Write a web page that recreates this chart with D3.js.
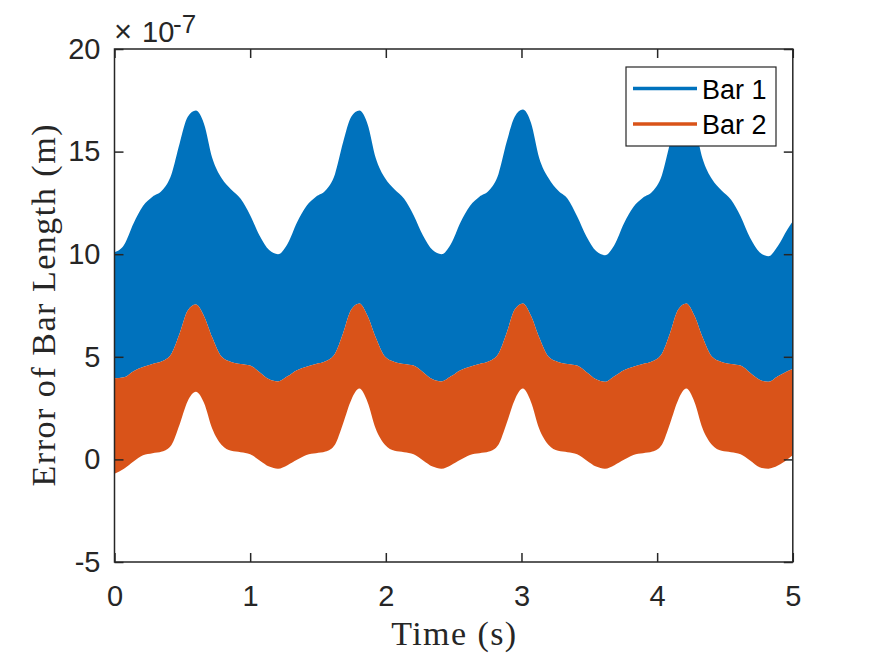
<!DOCTYPE html>
<html>
<head>
<meta charset="utf-8">
<script src="https://d3js.org/d3.v7.min.js"></script>
<style>
    body { margin: 0; background: #fff; }
    .tick text { font-family: "Liberation Sans", Arial, Helvetica, sans-serif; font-size: 29px; fill: #262626; }
    .tick line { stroke: #262626; stroke-width: 1.5; }
    .axis path.domain { display: none; }
</style>
</head>
<body>
<script>

//SVG dimension variables
var w = 875, h = 656;

var time = [
    0, 0.07, 0.14, 0.21, 0.28, 0.35, 0.42, 0.48, 0.54, 0.60, 0.66, 0.72, 0.79, 0.86, 0.93, 1.00, 1.07, 1.14,
    1.205, 1.275, 1.345, 1.415, 1.485, 1.555, 1.625, 1.685, 1.745, 1.805, 1.865, 1.925, 1.995, 2.065, 2.135, 2.205, 2.275, 2.345,
    2.41, 2.48, 2.55, 2.62, 2.69, 2.76, 2.83, 2.89, 2.95, 3.01, 3.07, 3.13, 3.20, 3.27, 3.34, 3.41, 3.48, 3.55,
    3.615, 3.685, 3.755, 3.825, 3.895, 3.965, 4.035, 4.095, 4.155, 4.215, 4.275, 4.335, 4.405, 4.475, 4.545, 4.615, 4.685, 4.755,
    4.82, 4.89, 4.96, 5.0
];

//Bar 1 upper envelope (x1e-7 m)
var bar1Max = [
    10.1, 10.45, 11.5, 12.35, 12.8, 13.1, 13.9, 15.4, 16.7, 17.0, 16.35, 14.7, 13.7, 13.15, 12.7, 11.9, 10.9, 10.2,
    10.0, 10.5, 11.55, 12.35, 12.8, 13.1, 13.9, 15.45, 16.7, 17.0, 16.35, 14.7, 13.7, 13.15, 12.7, 11.9, 10.9, 10.2,
    10.0, 10.5, 11.55, 12.35, 12.8, 13.1, 13.9, 15.45, 16.7, 17.05, 16.4, 14.7, 13.7, 13.1, 12.7, 11.85, 10.85, 10.15,
    9.95, 10.45, 11.5, 12.3, 12.75, 13.05, 13.85, 15.4, 16.65, 17.0, 16.3, 14.65, 13.65, 13.1, 12.65, 11.85, 10.8, 10.1,
    9.9, 10.4, 11.2, 11.6
];

//Bar 2 upper envelope (x1e-7 m)
var bar2Max = [
    3.95, 4.0, 4.3, 4.5, 4.65, 4.78, 5.15, 6.13, 7.26, 7.55, 6.98, 5.95, 5.0, 4.75, 4.65, 4.57, 4.25, 3.9,
    3.8, 4.05, 4.35, 4.52, 4.65, 4.78, 5.15, 6.15, 7.3, 7.6, 7.0, 5.95, 5.0, 4.75, 4.65, 4.57, 4.25, 3.9,
    3.8, 4.05, 4.35, 4.52, 4.65, 4.78, 5.15, 6.15, 7.3, 7.6, 7.0, 5.95, 5.0, 4.75, 4.65, 4.57, 4.25, 3.9,
    3.78, 4.05, 4.35, 4.52, 4.65, 4.78, 5.15, 6.15, 7.3, 7.6, 7.0, 5.95, 5.0, 4.75, 4.65, 4.57, 4.22, 3.88,
    3.78, 4.05, 4.3, 4.4
];

//Bar 2 lower envelope (x1e-7 m)
var bar2Min = [
    -0.7, -0.45, -0.1, 0.2, 0.3, 0.38, 0.7, 1.7, 2.85, 3.3, 2.75, 1.5, 0.7, 0.42, 0.35, 0.25, -0.05, -0.35,
    -0.45, -0.28, -0.02, 0.22, 0.3, 0.38, 0.72, 1.75, 2.9, 3.45, 2.8, 1.5, 0.7, 0.42, 0.35, 0.25, -0.05, -0.35,
    -0.45, -0.28, -0.02, 0.22, 0.3, 0.38, 0.72, 1.75, 2.9, 3.45, 2.8, 1.5, 0.7, 0.42, 0.35, 0.25, -0.05, -0.35,
    -0.45, -0.28, -0.02, 0.22, 0.3, 0.38, 0.72, 1.75, 2.9, 3.45, 2.8, 1.5, 0.7, 0.42, 0.35, 0.25, -0.05, -0.38,
    -0.45, -0.3, 0.0, 0.2
];

//axis ticks and legend entries
var xTicks = [0, 1, 2, 3, 4, 5];
var yTicks = [-5, 0, 5, 10, 15, 20];
var seriesNames = ["Bar 1", "Bar 2"];
var seriesColors = ["#0072BD", "#D95319"];

window.onload = function(){

    var svg = d3.select("body")
        .append("svg")
        .attr("width", w)
        .attr("height", h);

    //plot box edges in pixels
    var left = 114.5, right = 792.8, top = 49, bottom = 562;

    var x = d3.scaleLinear()
        .domain([0, 5])
        .range([left, right]);

    var y = d3.scaleLinear()
        .domain([-5, 20])
        .range([bottom, top]);

    //plain integer labels with an ascii hyphen for negatives
    var plain = function(d){ return String(d); };

    //pair each sample time with the three envelopes
    var rows = time.map(function(t, i){
        return { t: t, b1: bar1Max[i], b2hi: bar2Max[i], b2lo: bar2Min[i] };
    });

    svg.append("clipPath")
        .attr("id", "plotClip")
        .append("rect")
        .attr("x", left)
        .attr("y", top)
        .attr("width", right - left)
        .attr("height", bottom - top);

    var plot = svg.append("g").attr("clip-path", "url(#plotClip)");

    //Bar 1 band - visible part lies above the Bar 2 band
    var area1 = d3.area()
        .x(function(d){ return x(d.t); })
        .y0(function(d){ return y(d.b2hi); })
        .y1(function(d){ return y(d.b1); })
        .curve(d3.curveMonotoneX);

    //Bar 2 band
    var area2 = d3.area()
        .x(function(d){ return x(d.t); })
        .y0(function(d){ return y(d.b2lo); })
        .y1(function(d){ return y(d.b2hi); })
        .curve(d3.curveMonotoneX);

    plot.append("path")
        .datum(rows)
        .attr("d", area1)
        .style("fill", seriesColors[0]);

    plot.append("path")
        .datum(rows)
        .attr("d", area2)
        .style("fill", seriesColors[1]);

    //axes with inward ticks on all four sides
    svg.append("g")
        .attr("class", "axis")
        .attr("transform", "translate(0," + bottom + ")")
        .call(d3.axisBottom(x).tickValues(xTicks).tickFormat(plain).tickSizeInner(-9).tickSizeOuter(0).tickPadding(23));

    svg.append("g")
        .attr("class", "axis")
        .attr("transform", "translate(0," + top + ")")
        .call(d3.axisTop(x).tickValues(xTicks).tickSizeInner(-9).tickSizeOuter(0).tickFormat(""));

    svg.append("g")
        .attr("class", "axis")
        .attr("transform", "translate(" + left + ",0)")
        .call(d3.axisLeft(y).tickValues(yTicks).tickFormat(plain).tickSizeInner(-9).tickSizeOuter(0).tickPadding(14));

    svg.append("g")
        .attr("class", "axis")
        .attr("transform", "translate(" + right + ",0)")
        .call(d3.axisRight(y).tickValues(yTicks).tickSizeInner(-9).tickSizeOuter(0).tickFormat(""));

    svg.append("rect")
        .attr("x", left)
        .attr("y", top)
        .attr("width", right - left)
        .attr("height", bottom - top)
        .style("fill", "none")
        .style("stroke", "#262626")
        .style("stroke-width", 1.5);

    //exponent label above the y axis
    var sans = '"Liberation Sans", Arial, Helvetica, sans-serif';
    var expo = svg.append("text")
        .attr("x", 114)
        .attr("y", 41.5)
        .style("font-family", sans)
        .style("font-size", "29px")
        .style("fill", "#262626");
    expo.append("tspan").text("\u00d7").style("font-size", "31px").style("font-weight", "300");
    expo.append("tspan").attr("x", 142).text("10");
    expo.append("tspan").attr("x", 173).attr("dy", -8.5).style("font-size", "26px").text("-7");

    //axis titles in a serif face
    var serif = '"Liberation Serif", "Times New Roman", serif';
    svg.append("text")
        .attr("x", (left + right) / 2)
        .attr("y", 645)
        .attr("text-anchor", "middle")
        .attr("textLength", 125)
        .attr("lengthAdjust", "spacing")
        .style("font-family", serif)
        .style("font-size", "34px")
        .style("fill", "#262626")
        .text("Time (s)");

    svg.append("text")
        .attr("transform", "translate(55," + ((top + bottom) / 2) + ") rotate(-90)")
        .attr("text-anchor", "middle")
        .attr("textLength", 362)
        .attr("lengthAdjust", "spacing")
        .style("font-family", serif)
        .style("font-size", "34px")
        .style("fill", "#262626")
        .text("Error of Bar Length (m)");

    //legend box
    var legend = svg.append("g").attr("transform", "translate(626,67)");

    legend.append("rect")
        .attr("width", 150)
        .attr("height", 79)
        .style("fill", "#fff")
        .style("stroke", "#262626")
        .style("stroke-width", 1.2);

    var entries = legend.selectAll(".entry")
        .data(seriesNames)
        .enter()
        .append("g")
        .attr("class", "entry")
        .attr("transform", function(d, i){ return "translate(0," + (21.5 + i * 35.5) + ")"; });

    entries.append("line")
        .attr("x1", 7)
        .attr("x2", 71)
        .style("stroke", function(d, i){ return seriesColors[i]; })
        .style("stroke-width", 3.5);

    entries.append("text")
        .attr("x", 76)
        .attr("y", 10)
        .style("font-family", sans)
        .style("font-size", "27px")
        .style("fill", "#000")
        .text(function(d){ return d; });
};
</script>
</body>
</html>
